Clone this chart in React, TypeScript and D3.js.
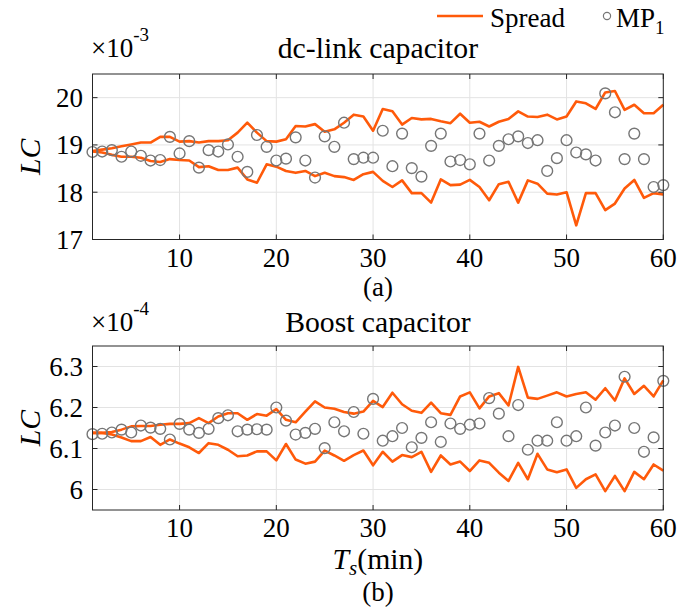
import React from "react";
import * as d3 from "d3";

const xTicks = [10, 20, 30, 40, 50, 60];
const dcYTicks = [17, 18, 19, 20];
const boostYTicks = [6, 6.1, 6.2, 6.3];

const dcUpper = [18.87, 18.90, 18.93, 18.97, 19.01, 19.05, 19.05, 19.17, 19.17, 19.07, 19.08, 19.05, 19.08, 19.08, 19.10, 19.26, 19.47, 19.26, 19.08, 19.07, 19.12, 19.40, 19.39, 19.44, 19.28, 19.33, 19.47, 19.64, 19.60, 19.30, 19.76, 19.71, 19.43, 19.57, 19.54, 19.55, 19.50, 19.46, 19.66, 19.47, 19.49, 19.39, 19.49, 19.55, 19.71, 19.60, 19.59, 19.64, 19.54, 19.60, 19.92, 19.88, 19.76, 20.11, 20.14, 19.74, 19.85, 19.67, 19.67, 19.85];
const dcLower = [18.86, 18.84, 18.79, 18.75, 18.75, 18.73, 18.66, 18.64, 18.70, 18.68, 18.67, 18.53, 18.55, 18.47, 18.47, 18.52, 18.27, 18.20, 18.59, 18.54, 18.45, 18.41, 18.45, 18.34, 18.41, 18.34, 18.32, 18.26, 18.38, 18.43, 18.24, 18.11, 18.25, 17.98, 17.98, 17.78, 18.27, 18.15, 18.16, 18.26, 18.11, 17.83, 18.17, 18.22, 17.78, 18.25, 18.18, 17.97, 17.95, 18.00, 17.30, 17.98, 17.98, 17.62, 17.76, 18.08, 18.26, 17.88, 17.98, 17.95];
const dcMP = [18.85, 18.86, 18.89, 18.75, 18.86, 18.77, 18.67, 18.68, 19.17, 18.82, 19.08, 18.52, 18.89, 18.86, 19.01, 18.75, 18.43, 19.21, 18.96, 18.67, 18.71, 19.16, 18.67, 18.31, 19.18, 18.96, 19.47, 18.70, 18.73, 18.73, 19.30, 18.55, 19.24, 18.51, 18.33, 18.98, 19.24, 18.65, 18.68, 18.59, 19.24, 18.67, 18.98, 19.12, 19.18, 19.04, 19.10, 18.45, 18.72, 19.10, 18.84, 18.80, 18.67, 20.09, 19.69, 18.70, 19.24, 18.70, 18.11, 18.15];

const boostUpper = [6.138, 6.138, 6.140, 6.146, 6.154, 6.155, 6.155, 6.158, 6.160, 6.160, 6.162, 6.174, 6.162, 6.178, 6.186, 6.186, 6.170, 6.184, 6.180, 6.196, 6.170, 6.164, 6.190, 6.215, 6.200, 6.197, 6.189, 6.185, 6.190, 6.216, 6.201, 6.236, 6.208, 6.192, 6.187, 6.212, 6.186, 6.182, 6.227, 6.237, 6.198, 6.227, 6.235, 6.205, 6.299, 6.224, 6.221, 6.229, 6.237, 6.227, 6.233, 6.237, 6.219, 6.247, 6.217, 6.271, 6.233, 6.253, 6.227, 6.266];
const boostLower = [6.138, 6.138, 6.134, 6.127, 6.118, 6.118, 6.128, 6.109, 6.122, 6.112, 6.103, 6.089, 6.113, 6.109, 6.097, 6.081, 6.083, 6.093, 6.093, 6.071, 6.111, 6.073, 6.063, 6.068, 6.095, 6.083, 6.070, 6.084, 6.095, 6.059, 6.092, 6.068, 6.084, 6.079, 6.092, 6.043, 6.083, 6.061, 6.068, 6.045, 6.071, 6.065, 6.041, 6.021, 6.065, 6.025, 6.087, 6.049, 6.042, 6.049, 6.004, 6.025, 6.037, 5.996, 6.033, 5.996, 6.043, 6.025, 6.061, 6.046];
const boostMP = [6.135, 6.136, 6.139, 6.146, 6.139, 6.156, 6.151, 6.148, 6.122, 6.160, 6.146, 6.138, 6.148, 6.174, 6.181, 6.142, 6.146, 6.147, 6.146, 6.200, 6.168, 6.134, 6.138, 6.148, 6.101, 6.164, 6.142, 6.189, 6.136, 6.221, 6.119, 6.130, 6.150, 6.103, 6.126, 6.164, 6.116, 6.161, 6.148, 6.158, 6.161, 6.223, 6.185, 6.130, 6.206, 6.097, 6.119, 6.119, 6.164, 6.119, 6.130, 6.200, 6.107, 6.139, 6.156, 6.275, 6.150, 6.092, 6.127, 6.265];

const ORANGE = "#ff5a0a";
const GREY = "#767676";
const AXIS = "#262626";
const GRID = "#e3e3e3";
const TXT: React.CSSProperties = { fontFamily: "'Liberation Serif', 'Times New Roman', serif" };

const X0 = 92.5;
const X1 = 663.3;
const TICK_FS = 27;
const LABEL_FS = 29.7;

type PanelProps = {
  top: number;
  bottom: number;
  domain: [number, number];
  yTicks: number[];
  upper: number[];
  lower: number[];
  mp: number[];
  fmt: (v: number) => string;
};

function Panel({ top, bottom, domain, yTicks, upper, lower, mp, fmt }: PanelProps) {
  const x = d3.scaleLinear().domain([1, 60]).range([X0, X1]);
  const y = d3.scaleLinear().domain(domain).range([bottom, top]);
  const line = d3
    .line<number>()
    .x((_, i) => x(i + 1))
    .y((d) => y(d));
  const tl = 5;
  return (
    <g>
      {xTicks.map((t) => (
        <line key={"gx" + t} x1={x(t)} x2={x(t)} y1={top} y2={bottom} stroke={GRID} strokeWidth={1} />
      ))}
      {yTicks.map((t) => (
        <line key={"gy" + t} x1={X0} x2={X1} y1={y(t)} y2={y(t)} stroke={GRID} strokeWidth={1} />
      ))}
      <path d={line(upper) || ""} fill="none" stroke={ORANGE} strokeWidth={2.6} strokeLinejoin="round" />
      <path d={line(lower) || ""} fill="none" stroke={ORANGE} strokeWidth={2.6} strokeLinejoin="round" />
      {mp.map((v, i) => (
        <circle key={"c" + i} cx={x(i + 1)} cy={y(v)} r={5.4} fill="none" stroke={GREY} strokeWidth={1.4} />
      ))}
      <rect x={X0} y={top} width={X1 - X0} height={bottom - top} fill="none" stroke={AXIS} strokeWidth={1} />
      {xTicks.map((t) => (
        <g key={"tx" + t}>
          <line x1={x(t)} x2={x(t)} y1={bottom} y2={bottom - tl} stroke={AXIS} />
          <line x1={x(t)} x2={x(t)} y1={top} y2={top + tl} stroke={AXIS} />
          <text x={x(t)} y={bottom + 27} textAnchor="middle" fontSize={TICK_FS} style={TXT}>
            {t}
          </text>
        </g>
      ))}
      {yTicks.map((t) => (
        <g key={"ty" + t}>
          <line x1={X0} x2={X0 + tl} y1={y(t)} y2={y(t)} stroke={AXIS} />
          <line x1={X1} x2={X1 - tl} y1={y(t)} y2={y(t)} stroke={AXIS} />
          <text x={83} y={y(t)} dy="0.35em" textAnchor="end" fontSize={TICK_FS} style={TXT}>
            {fmt(t)}
          </text>
        </g>
      ))}
      <text
        transform={`translate(${40},${(top + bottom) / 2}) rotate(-90)`}
        textAnchor="middle"
        fontSize={LABEL_FS}
        fontStyle="italic"
        style={TXT}
      >
        LC
      </text>
    </g>
  );
}

export default function App() {
  const cx = (X0 + X1) / 2;
  return (
    <svg
      width={679}
      height={611}
      fill="#000"
      style={{ position: "absolute", left: 0, top: 0, background: "#fff" }}
    >
      <rect width={679} height={611} fill="#fff" />
      {/* Legend */}
      <line x1={437} x2={483} y1={16} y2={16} stroke={ORANGE} strokeWidth={2.6} />
      <text x={490} y={27} fontSize={TICK_FS} style={TXT}>Spread</text>
      <circle cx={607} cy={16} r={3.6} fill="none" stroke={GREY} strokeWidth={1.2} />
      <text x={616} y={27} fontSize={TICK_FS} style={TXT}>
        MP<tspan fontSize={19} dy={7}>1</tspan>
      </text>

      {/* Panel a */}
      <text x={91} y={57} fontSize={TICK_FS} style={TXT}>
        ×10<tspan fontSize={19} dy={-16}>-3</tspan>
      </text>
      <text x={cx} y={58} textAnchor="middle" fontSize={LABEL_FS} style={TXT}>
        dc-link capacitor
      </text>
      <Panel
        top={74}
        bottom={239.5}
        domain={[17, 20.5]}
        yTicks={dcYTicks}
        upper={dcUpper}
        lower={dcLower}
        mp={dcMP}
        fmt={(v) => String(v)}
      />
      <text x={cx} y={296} textAnchor="middle" fontSize={TICK_FS} style={TXT}>(a)</text>

      {/* Panel b */}
      <text x={91} y={331} fontSize={TICK_FS} style={TXT}>
        ×10<tspan fontSize={19} dy={-16}>-4</tspan>
      </text>
      <text x={cx} y={332} textAnchor="middle" fontSize={LABEL_FS} style={TXT}>
        Boost capacitor
      </text>
      <Panel
        top={346}
        bottom={510}
        domain={[5.95, 6.35]}
        yTicks={boostYTicks}
        upper={boostUpper}
        lower={boostLower}
        mp={boostMP}
        fmt={(v) => (v === 6 ? "6" : v.toFixed(1))}
      />
      <text x={cx} y={569} textAnchor="middle" fontSize={LABEL_FS} style={TXT}>
        <tspan fontStyle="italic">T</tspan>
        <tspan fontStyle="italic" fontSize={21} dy={6}>s</tspan>
        <tspan dy={-6}>(min)</tspan>
      </text>
      <text x={cx} y={601} textAnchor="middle" fontSize={TICK_FS} style={TXT}>(b)</text>
    </svg>
  );
}
